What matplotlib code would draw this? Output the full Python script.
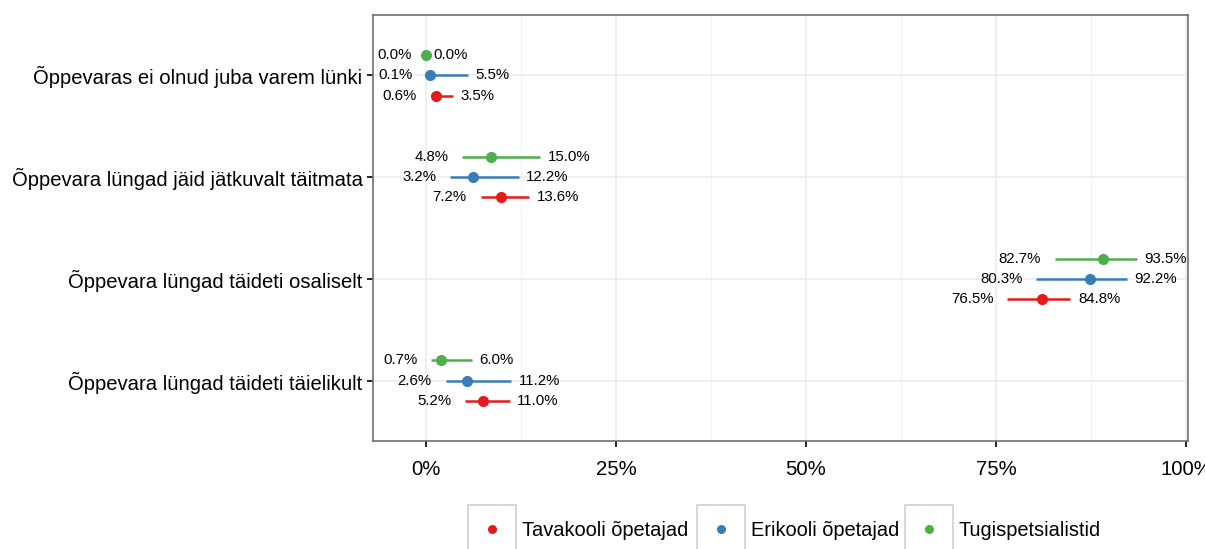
import numpy as np
import matplotlib
matplotlib.use('Agg')
import matplotlib.pyplot as plt
from matplotlib.patches import Rectangle
from matplotlib.lines import Line2D

plt.rcParams['font.family'] = ['Liberation Sans', 'DejaVu Sans']

# categories listed top to bottom
categories = ['Õppevaras ei olnud juba varem lünki',
              'Õppevara lüngad jäid jätkuvalt täitmata',
              'Õppevara lüngad täideti osaliselt',
              'Õppevara lüngad täideti täielikult']

groups = ['Tavakooli õpetajad', 'Erikooli õpetajad', 'Tugispetsialistid']
colors = ['#E41A1C', '#377EB8', '#4DAF4A']

# point estimates and interval bounds, %
tava_est = [1.3, 9.9, 81.0, 7.5]
tava_lo = [0.6, 7.2, 76.5, 5.2]
tava_hi = [3.5, 13.6, 84.8, 11.0]

eri_est = [0.5, 6.2, 87.4, 5.4]
eri_lo = [0.1, 3.2, 80.3, 2.6]
eri_hi = [5.5, 12.2, 92.2, 11.2]

tugi_est = [0.0, 8.5, 89.1, 2.0]
tugi_lo = [0.0, 4.8, 82.7, 0.7]
tugi_hi = [0.0, 15.0, 93.5, 6.0]

series = [(tava_est, tava_lo, tava_hi),
          (eri_est, eri_lo, eri_hi),
          (tugi_est, tugi_lo, tugi_hi)]
dodge = [-0.2, 0.0, 0.2]

W, H = 1205, 549
fig = plt.figure(figsize=(W / 100, H / 100), dpi=100)
ax = fig.add_axes([373 / W, (H - 441) / H, (1188 - 373) / W, (441 - 15) / H])

ypos = np.arange(len(categories), 0, -1)

# light grid as in theme_bw
for x in [12.5, 37.5, 62.5, 87.5]:
    ax.axvline(x, color='#F4F4F4', lw=0.8, zorder=0)
for x in [0, 25, 50, 75, 100]:
    ax.axvline(x, color='#EBEBEB', lw=1.1, zorder=0)
for y in ypos:
    ax.axhline(y, color='#EBEBEB', lw=1.1, zorder=0)

for (est, lo, hi), dy, c in zip(series, dodge, colors):
    yy = ypos + dy
    ax.hlines(yy, lo, hi, color=c, lw=1.8, zorder=2)
    ax.plot(est, yy, 'o', color=c, markersize=8, markeredgewidth=0, zorder=3)
    for y, l, h in zip(yy, lo, hi):
        t1 = ax.annotate('{:.1f}%'.format(l), (l, y), xytext=(-10, 0),
                         textcoords='offset points', ha='right', va='center',
                         fontsize=10.8, annotation_clip=False)
        t2 = ax.annotate('{:.1f}%'.format(h), (h, y), xytext=(5.5, 0),
                         textcoords='offset points', ha='left', va='center',
                         fontsize=10.8, annotation_clip=False)
        t1.set_clip_on(True)
        t2.set_clip_on(True)

ax.set_xlim(-6.97, 100.26)
ax.set_ylim(0.41, 4.59)
ax.set_xticks([0, 25, 50, 75, 100])
ax.set_xticklabels(['0%', '25%', '50%', '75%', '100%'])
ax.set_yticks(ypos)
ax.set_yticklabels(categories)
ax.tick_params(axis='both', length=4.5, width=1.2, color='black',
               labelsize=14.6, labelcolor='black')
ax.tick_params(axis='x', pad=9)
ax.tick_params(axis='y', pad=3)
for s in ax.spines.values():
    s.set_color('#707070')
    s.set_linewidth(1.2)

# legend along the bottom, keys in grey-bordered boxes
box_left = [468, 697, 905]
for x0, g, c in zip(box_left, groups, colors):
    fig.add_artist(Rectangle((x0 / W, -10 / H), 48 / W, (H - 505 + 10) / H,
                             transform=fig.transFigure, facecolor='white',
                             edgecolor='#CCCCCC', lw=1.1))
    fig.add_artist(Line2D([(x0 + 24) / W], [(H - 529) / H], marker='o',
                          color=c, markersize=6.5, markeredgewidth=0,
                          transform=fig.transFigure))
    fig.text((x0 + 54) / W, (H - 530) / H, g, fontsize=14.4, va='center',
             ha='left')

fig.savefig('out.png', dpi=100)
